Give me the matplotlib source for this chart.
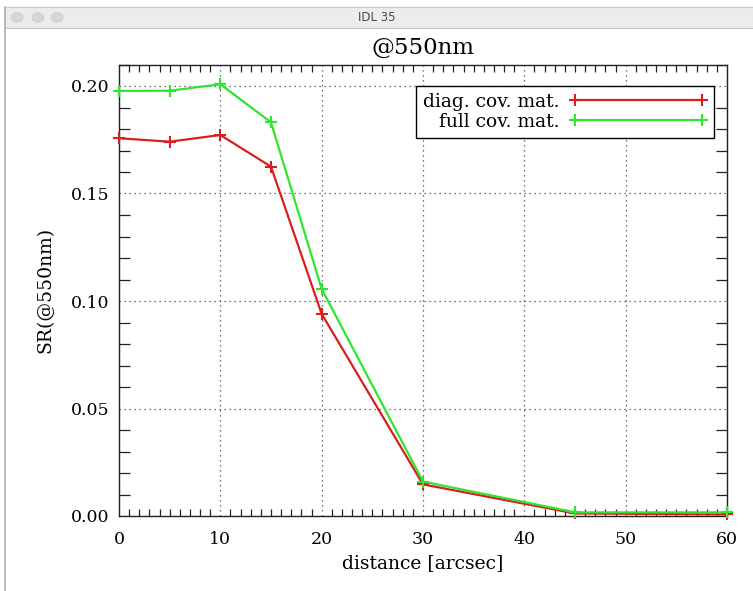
import matplotlib
matplotlib.use("Agg")
import matplotlib.pyplot as plt
from matplotlib.patches import Rectangle, Circle
from matplotlib.ticker import MultipleLocator

# distance from the axis (arcsec) and Strehl ratio at 550 nm
distance = [0, 5, 10, 15, 20, 30, 45, 60]
sr_diag = [0.1757, 0.1741, 0.1772, 0.1625, 0.0940, 0.0147, 0.0012, 0.0007]
sr_full = [0.1977, 0.1978, 0.2008, 0.1831, 0.1056, 0.0160, 0.0017, 0.0017]

labels = ["diag. cov. mat.", "full cov. mat."]
colors = ["#d81e1e", "#2ee62e"]

plt.rcParams["font.family"] = "DejaVu Serif"

fig = plt.figure(figsize=(7.53, 5.91), dpi=100)

# fake window chrome of the IDL window
fig.patches.append(Rectangle((5 / 753, 1 - 28 / 591), 748 / 753, 21 / 591,
                             transform=fig.transFigure, facecolor="#ececec",
                             edgecolor="#c8c8c8", lw=0.8))
fig.lines.append(plt.Line2D([5 / 753, 5 / 753], [0, 1 - 7 / 591],
                            transform=fig.transFigure, color="#b0b0b0", lw=1.2))
for cx in (17, 38, 57):
    fig.patches.append(Circle((cx / 753, 1 - 17.5 / 591), 6 / 753,
                              transform=fig.transFigure, facecolor="#d6d6d6",
                              edgecolor="#c8c8c8", lw=0.5))
fig.text(0.5, 1 - 17.5 / 591, "IDL 35", ha="center", va="center",
         fontsize=8.5, family="DejaVu Sans", color="#4a4a4a")

ax = fig.add_axes([119 / 753, 75 / 591, 608 / 753, 451.5 / 591])

for y, lab, c in zip([sr_diag, sr_full], labels, colors):
    ax.plot(distance, y, color=c, lw=1.6, marker="+", ms=9, mew=1.5,
            label=lab, clip_on=False, zorder=3)

ax.set_xlim(0, 60)
ax.set_ylim(0, 0.21)
ax.xaxis.set_major_locator(MultipleLocator(10))
ax.xaxis.set_minor_locator(MultipleLocator(1))
ax.yaxis.set_major_locator(MultipleLocator(0.05))
ax.yaxis.set_minor_locator(MultipleLocator(0.01))
ax.yaxis.set_major_formatter(lambda v, p: f"{v:.2f}")

ax.tick_params(which="major", length=0, labelsize=12.5)
ax.tick_params(axis="x", which="major", pad=11)
ax.tick_params(axis="y", which="major", pad=7)
ax.tick_params(which="minor", direction="in", top=True, right=True, width=0.9,
               color="#222222")
ax.tick_params(axis="x", which="minor", length=5)
ax.tick_params(axis="y", which="minor", length=8)
ax.grid(True, which="major", ls=(0, (1, 3)), color="#444444", lw=0.9)
for s in ax.spines.values():
    s.set_linewidth(1.0)
    s.set_color("#222222")

ax.set_title("@550nm", fontsize=16.5, pad=8)
ax.set_xlabel("distance [arcsec]", fontsize=13.5, labelpad=4)
ax.set_ylabel("SR(@550nm)", fontsize=13.5, labelpad=12)

leg = ax.legend(loc="upper right", bbox_to_anchor=(0.979, 0.952),
                borderaxespad=0, markerfirst=False, numpoints=2,
                handlelength=7.4, fontsize=13.5, fancybox=False,
                edgecolor="black", framealpha=1, labelspacing=0.12,
                borderpad=0.35, handletextpad=0.5)
leg.get_frame().set_linewidth(1.0)

fig.savefig("out.png", dpi=100)
